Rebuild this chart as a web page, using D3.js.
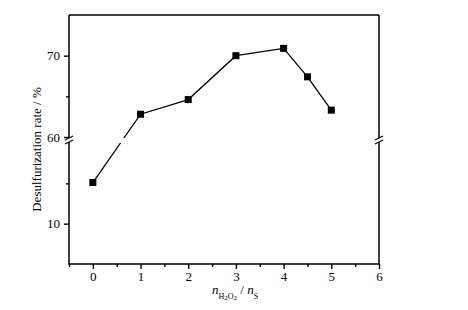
<!DOCTYPE html>
<html>
<head>
<meta charset="utf-8">
<script src="https://cdn.jsdelivr.net/npm/d3@7"></script>
<style>
  body { margin: 0; background: #fff; }
  svg { display: block; font-family: 'Liberation Serif', 'Times New Roman', serif; }
</style>
</head>
<body>
<svg width="468" height="310"></svg>
<script>
    // data
    const ratios = [0, 1, 2, 3, 4, 4.5, 5];
    const rates = [15.1, 62.8, 64.6, 70.0, 70.9, 67.4, 63.3];
    const xTicks = [0, 1, 2, 3, 4, 5, 6];
    const xMinor = [-0.5, 0.5, 1.5, 2.5, 3.5, 4.5, 5.5];
    const lowTicks = [10];
    const lowMinor = [15];
    const highTicks = [60, 70];
    const highMinor = [65];

(function (d3) {
    'use strict';
    const svg = d3.select('svg');

    const pLeft = 69, pRight = 379, pTop = 15, pBottom = 264;
    const breakLow = 142, breakHigh = 138; // pixel edges of the axis break

    const xScale = d3.scaleLinear().domain([-0.5, 6]).range([pLeft, pRight]);
    const yLow = d3.scaleLinear().domain([5, 20]).range([pBottom, 143]);
    const yHigh = d3.scaleLinear().domain([60, 75]).range([137, pTop]);
    const yPos = v => v < 40 ? yLow(v) : yHigh(v);

    const g = svg.append('g');

    // clip so the line is broken where the axis is broken
    const defs = svg.append('defs');
    const clip = defs.append('clipPath').attr('id', 'brk');
    clip.append('rect').attr('x', 0).attr('y', 0).attr('width', 468).attr('height', breakHigh);
    clip.append('rect').attr('x', 0).attr('y', breakLow + 1).attr('width', 468).attr('height', 310);

    // x axis
    const xAxis = d3.axisBottom(xScale).tickValues(xTicks).tickSize(5).tickPadding(3)
        .tickFormat(d3.format('d'));
    const xg = g.append('g').attr('transform', `translate(0,${pBottom})`).call(xAxis);
    xg.select('.domain').remove();
    const xm = g.append('g').attr('transform', `translate(0,${pBottom})`)
        .call(d3.axisBottom(xScale).tickValues(xMinor).tickSize(3).tickFormat(''));
    xm.select('.domain').remove();

    // y axis (two segments)
    const fmt = d3.format('d');
    [[yLow, lowTicks, lowMinor], [yHigh, highTicks, highMinor]].forEach(([sc, maj, mnr]) => {
        const a = g.append('g').attr('transform', `translate(${pLeft},0)`)
            .call(d3.axisLeft(sc).tickValues(maj).tickSize(5).tickPadding(4).tickFormat(fmt));
        a.select('.domain').remove();
        const b = g.append('g').attr('transform', `translate(${pLeft},0)`)
            .call(d3.axisLeft(sc).tickValues(mnr).tickSize(3).tickFormat(''));
        b.select('.domain').remove();
    });

    g.selectAll('.tick line').attr('stroke', '#000').attr('stroke-width', 1.4);
    g.selectAll('.tick text').attr('font-size', 13).attr('fill', '#000')
        .attr('font-family', "'Liberation Serif', 'Times New Roman', serif");

    // frame
    const frame = g.append('g').attr('stroke', '#000').attr('stroke-width', 1.5).attr('fill', 'none');
    frame.append('line').attr('x1', pLeft).attr('x2', pRight).attr('y1', pTop).attr('y2', pTop);
    frame.append('line').attr('x1', pLeft - 0.7).attr('x2', pRight + 0.7).attr('y1', pBottom).attr('y2', pBottom);
    [pLeft, pRight].forEach(x => {
        frame.append('line').attr('x1', x).attr('x2', x).attr('y1', pTop).attr('y2', breakHigh);
        frame.append('line').attr('x1', x).attr('x2', x).attr('y1', breakLow).attr('y2', pBottom);
        [breakHigh, breakLow].forEach(y => {
            frame.append('line').attr('stroke-width', 1.2)
                .attr('x1', x - 4).attr('y1', y + 2).attr('x2', x + 4).attr('y2', y - 2);
        });
    });

    // series
    const pts = ratios.map((r, i) => [xScale(r), yPos(rates[i])]);
    g.append('path')
        .attr('d', d3.line()(pts))
        .attr('fill', 'none')
        .attr('stroke', '#000')
        .attr('stroke-width', 1.3)
        .attr('clip-path', 'url(#brk)');

    const sq = 7;
    g.selectAll('rect.pt').data(pts).enter().append('rect')
        .attr('class', 'pt')
        .attr('x', d => d[0] - sq / 2)
        .attr('y', d => d[1] - sq / 2)
        .attr('width', sq).attr('height', sq)
        .attr('fill', '#000');

    // axis titles
    svg.append('text')
        .attr('transform', `translate(41,${(pTop + pBottom) / 2 + 10}) rotate(-90)`)
        .attr('text-anchor', 'middle')
        .attr('font-size', 13)
        .text('Desulfurization rate / %');

    const xl = svg.append('text').attr('x', 212).attr('y', 294).attr('font-size', 13);
    xl.append('tspan').attr('font-style', 'italic').text('n');
    xl.append('tspan').attr('font-size', 8).attr('y', 299).text('H');
    xl.append('tspan').attr('font-size', 7).attr('y', 300).text('2');
    xl.append('tspan').attr('font-size', 8).attr('y', 299).text('O');
    xl.append('tspan').attr('font-size', 7).attr('y', 300).text('2');
    xl.append('tspan').attr('y', 294).text(' / ');
    xl.append('tspan').attr('font-style', 'italic').text('n');
    xl.append('tspan').attr('font-size', 8).attr('y', 299).text('S');
}(d3));
</script>
</body>
</html>
